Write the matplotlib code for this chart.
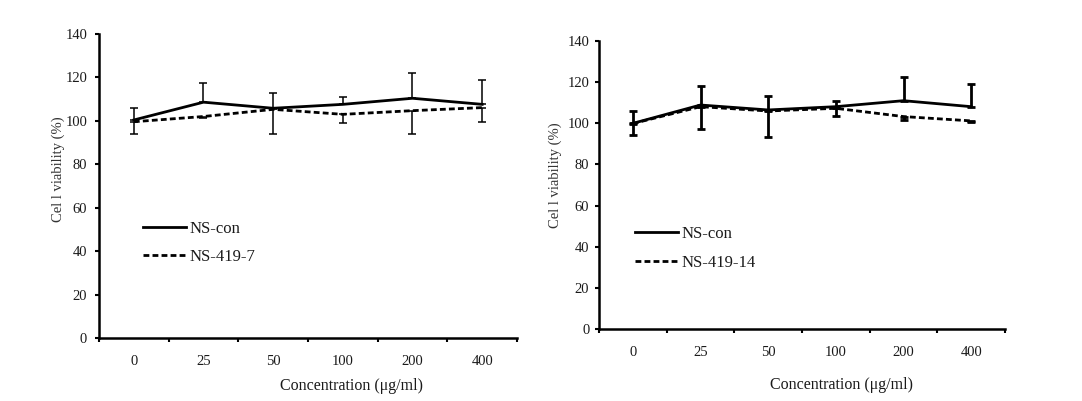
import matplotlib
matplotlib.use("Agg")
import matplotlib.pyplot as plt
import numpy as np

plt.rcParams['font.family'] = ['Liberation Serif', 'DejaVu Serif']
plt.rcParams['lines.scale_dashes'] = False

categories = ["0", "25", "50", "100", "200", "400"]
y_ticks = [0, 20, 40, 60, 80, 100, 120, 140]

# Left panel
con_left = [100.4, 108.6, 105.8, 107.6, 110.4, 107.6]
con_left_err = [5.5, 9.0, 6.8, 3.3, 11.5, 11.0]
s7 = [99.6, 102.0, 105.3, 103.0, 104.7, 106.1]
s7_err = [5.6, 0.9, 11.3, 4.0, 10.7, 6.8]

# Right panel
con_right = [99.9, 108.8, 106.4, 108.0, 110.9, 108.0]
con_right_err = [6.0, 9.4, 6.8, 2.8, 11.4, 11.0]
s14 = [99.8, 108.0, 105.9, 107.2, 103.2, 101.1]
s14_err = [5.6, 10.8, 12.7, 3.7, 1.6, 0.7]

labels_left = ["NS-con", "NS-419-7"]
labels_right = ["NS-con", "NS-419-14"]

W, H = 1082, 401
fig = plt.figure(figsize=(W / 100, H / 100), dpi=100)

txt_color = '#1a1a1a'

def px_axes(x0, x1, ytop, ybot):
    return fig.add_axes([x0 / W, 1 - ybot / H, (x1 - x0) / W, (ybot - ytop) / H])

def panel(ax, con, con_err, ser, ser_err, labels, elw, ypad, leg_xy):
    x = np.arange(len(categories))
    zeros = [0] * len(x)
    ax.errorbar(x, con, yerr=[zeros, con_err], color='black', lw=2.0,
                elinewidth=elw, capsize=3, capthick=elw, ls='-', label=labels[0])
    ax.errorbar(x, ser, yerr=[ser_err, zeros], color='black', lw=2.0,
                elinewidth=elw, capsize=3, capthick=elw, ls=(0, (4.2, 2.3)),
                label=labels[1])
    ax.set_xlim(-0.5, len(categories) - 0.5)
    ax.set_ylim(0, 140)
    ax.set_yticks(y_ticks)
    ax.set_yticklabels([str(v) for v in y_ticks])
    ax.set_xticks(x)
    ax.set_xticklabels(categories)
    ax.set_xticks(np.arange(-0.5, len(categories)), minor=True)
    ax.tick_params(axis='x', which='major', length=0, pad=12, labelsize=10.5,
                   labelcolor=txt_color)
    ax.tick_params(axis='x', which='minor', length=3, width=1.5, direction='out')
    ax.tick_params(axis='y', which='major', length=3, width=1.5, direction='out',
                   pad=ypad, labelsize=10.5, labelcolor=txt_color)
    for s in ['top', 'right']:
        ax.spines[s].set_visible(False)
    for s in ['left', 'bottom']:
        ax.spines[s].set_linewidth(1.8)
    handles, labs = ax.get_legend_handles_labels()
    handles = [h[0] for h in handles]
    ax.legend(handles, labs, loc='center left', bbox_to_anchor=leg_xy,
              frameon=False, handlelength=2.6, handletextpad=0.2,
              labelspacing=0.75, borderpad=0, borderaxespad=0, fontsize=12,
              labelcolor=txt_color)

axL = px_axes(99, 517, 34, 338)
panel(axL, con_left, con_left_err, s7, s7_err, labels_left, 1.1, 5.5,
      ((143 - 99) / 418, (338 - 243) / 304))

axR = px_axes(599, 1005, 40.7, 329.3)
panel(axR, con_right, con_right_err, s14, s14_err, labels_right, 2.0, 4,
      ((635 - 599) / 406, (329.3 - 248.3) / 288.6))

fig.text(351 / W, 1 - 386 / H, "Concentration (\u03bcg/ml)", ha='center', va='center',
         fontsize=11.5, color=txt_color)
fig.text(841 / W, 1 - 385 / H, "Concentration (\u03bcg/ml)", ha='center', va='center',
         fontsize=11.5, color=txt_color)
fig.text(58 / W, 1 - 169 / H, "Cel l viability (%)", rotation=90, ha='center',
         va='center', fontsize=10.5, color='#333333')
fig.text(555 / W, 1 - 175 / H, "Cel l viability (%)", rotation=90, ha='center',
         va='center', fontsize=10.5, color='#333333')

fig.savefig("out.png", dpi=100)
